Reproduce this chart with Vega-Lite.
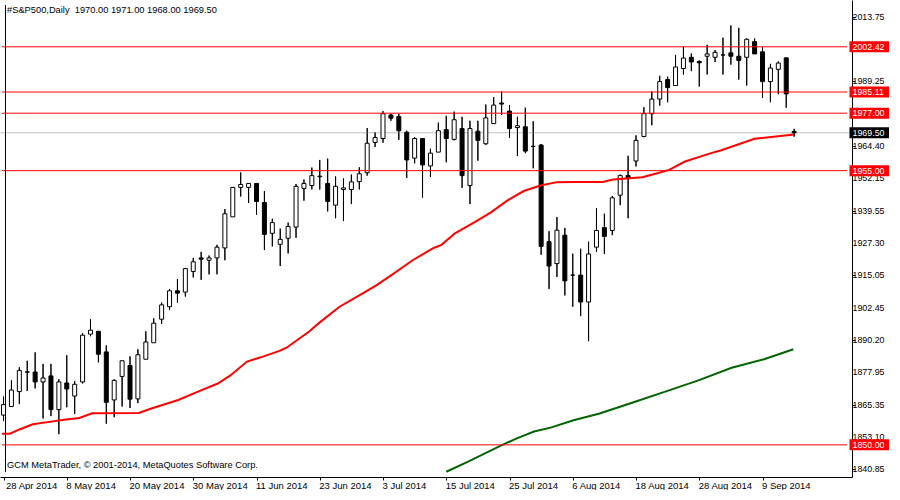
{
  "$schema": "https://vega.github.io/schema/vega-lite/v6.json",
  "width": 852,
  "height": 477,
  "autosize": {"type": "none"},
  "padding": {"left": 0, "top": 0, "right": 38, "bottom": 13},
  "background": "white",
  "config": {
    "view": {"stroke": null},
    "font": "Liberation Sans",
    "axis": {"labelOverlap": false, "labelFlush": false, "labelBound": false, "grid": false, "title": null}
  },
  "datasets": {
    "candles": [
      {"i":0,"o":1861.4,"h":1868.5,"l":1859.1,"c":1865.4},
      {"i":1,"o":1864.7,"h":1874.7,"l":1864.5,"c":1871.0},
      {"i":2,"o":1870.4,"h":1879.7,"l":1865.6,"c":1878.5},
      {"i":3,"o":1877.8,"h":1882.2,"l":1870.6,"c":1878.0},
      {"i":4,"o":1877.9,"h":1885.4,"l":1871.6,"c":1874.1},
      {"i":5,"o":1874.1,"h":1881.0,"l":1860.1,"c":1875.6},
      {"i":6,"o":1876.4,"h":1881.0,"l":1861.0,"c":1863.5},
      {"i":7,"o":1863.5,"h":1875.1,"l":1854.1,"c":1874.1},
      {"i":8,"o":1873.7,"h":1884.3,"l":1864.4,"c":1871.4},
      {"i":9,"o":1868.7,"h":1874.4,"l":1861.8,"c":1873.2},
      {"i":10,"o":1874.1,"h":1892.8,"l":1873.5,"c":1892.0},
      {"i":11,"o":1892.4,"h":1898.1,"l":1891.6,"c":1893.9},
      {"i":12,"o":1893.5,"h":1893.5,"l":1881.6,"c":1884.7},
      {"i":13,"o":1885.6,"h":1888.1,"l":1858.1,"c":1866.3},
      {"i":14,"o":1867.2,"h":1875.1,"l":1860.6,"c":1874.7},
      {"i":15,"o":1876.2,"h":1882.2,"l":1864.7,"c":1882.2},
      {"i":16,"o":1880.4,"h":1883.9,"l":1864.1,"c":1867.5},
      {"i":17,"o":1867.6,"h":1886.6,"l":1866.0,"c":1884.5},
      {"i":18,"o":1882.8,"h":1893.5,"l":1882.8,"c":1889.4},
      {"i":19,"o":1889.1,"h":1898.5,"l":1889.1,"c":1896.6},
      {"i":20,"o":1898.1,"h":1904.5,"l":1896.3,"c":1903.6},
      {"i":21,"o":1902.9,"h":1909.7,"l":1901.6,"c":1909.0},
      {"i":22,"o":1909.0,"h":1913.5,"l":1904.4,"c":1908.1},
      {"i":23,"o":1908.5,"h":1917.5,"l":1906.8,"c":1917.5},
      {"i":24,"o":1916.4,"h":1921.6,"l":1914.1,"c":1920.1},
      {"i":25,"o":1921.6,"h":1923.9,"l":1913.2,"c":1921.1},
      {"i":26,"o":1920.7,"h":1922.5,"l":1915.3,"c":1921.6},
      {"i":27,"o":1921.6,"h":1926.6,"l":1915.3,"c":1925.7},
      {"i":28,"o":1925.4,"h":1940.3,"l":1920.7,"c":1938.5},
      {"i":29,"o":1937.3,"h":1948.6,"l":1937.3,"c":1948.6},
      {"i":30,"o":1948.6,"h":1954.3,"l":1945.1,"c":1949.7},
      {"i":31,"o":1948.6,"h":1950.1,"l":1942.6,"c":1950.1},
      {"i":32,"o":1950.1,"h":1950.1,"l":1938.1,"c":1943.2},
      {"i":33,"o":1942.8,"h":1947.2,"l":1924.6,"c":1930.6},
      {"i":34,"o":1931.0,"h":1936.6,"l":1926.0,"c":1935.1},
      {"i":35,"o":1926.8,"h":1932.8,"l":1918.5,"c":1928.7},
      {"i":36,"o":1929.1,"h":1935.1,"l":1923.3,"c":1933.6},
      {"i":37,"o":1933.4,"h":1949.9,"l":1929.3,"c":1949.0},
      {"i":38,"o":1948.2,"h":1951.6,"l":1943.5,"c":1950.1},
      {"i":39,"o":1949.3,"h":1956.2,"l":1947.8,"c":1953.1},
      {"i":40,"o":1952.7,"h":1959.1,"l":1947.8,"c":1952.9},
      {"i":41,"o":1950.1,"h":1959.6,"l":1939.4,"c":1943.2},
      {"i":42,"o":1941.8,"h":1952.8,"l":1936.8,"c":1949.0},
      {"i":43,"o":1947.8,"h":1952.0,"l":1935.7,"c":1948.4},
      {"i":44,"o":1947.8,"h":1953.5,"l":1942.2,"c":1950.7},
      {"i":45,"o":1950.8,"h":1956.3,"l":1947.8,"c":1953.8},
      {"i":46,"o":1954.2,"h":1971.3,"l":1953.1,"c":1965.5},
      {"i":47,"o":1965.8,"h":1969.7,"l":1964.1,"c":1967.7},
      {"i":48,"o":1967.3,"h":1977.8,"l":1965.7,"c":1976.8},
      {"i":49,"o":1976.3,"h":1976.8,"l":1974.1,"c":1975.1},
      {"i":50,"o":1975.7,"h":1976.8,"l":1966.8,"c":1970.3},
      {"i":51,"o":1969.7,"h":1970.3,"l":1952.2,"c":1959.1},
      {"i":52,"o":1959.8,"h":1967.8,"l":1957.8,"c":1967.3},
      {"i":53,"o":1967.3,"h":1967.3,"l":1944.7,"c":1957.2},
      {"i":54,"o":1956.8,"h":1963.4,"l":1952.6,"c":1961.7},
      {"i":55,"o":1962.1,"h":1973.4,"l":1962.1,"c":1970.3},
      {"i":56,"o":1970.7,"h":1976.0,"l":1958.2,"c":1967.3},
      {"i":57,"o":1967.0,"h":1977.6,"l":1966.6,"c":1974.5},
      {"i":58,"o":1971.1,"h":1975.6,"l":1948.4,"c":1953.1},
      {"i":59,"o":1949.3,"h":1974.1,"l":1942.2,"c":1971.1},
      {"i":60,"o":1970.1,"h":1974.1,"l":1958.8,"c":1966.6},
      {"i":61,"o":1965.3,"h":1980.3,"l":1964.9,"c":1975.2},
      {"i":62,"o":1973.0,"h":1983.2,"l":1973.0,"c":1980.1},
      {"i":63,"o":1980.9,"h":1985.3,"l":1976.3,"c":1980.5},
      {"i":64,"o":1977.8,"h":1980.1,"l":1967.6,"c":1971.1},
      {"i":65,"o":1971.5,"h":1975.6,"l":1960.6,"c":1972.2},
      {"i":66,"o":1971.8,"h":1979.1,"l":1961.7,"c":1962.5},
      {"i":67,"o":1964.3,"h":1973.9,"l":1955.9,"c":1964.3},
      {"i":68,"o":1964.8,"h":1965.2,"l":1922.8,"c":1926.0},
      {"i":69,"o":1927.8,"h":1931.8,"l":1909.7,"c":1918.5},
      {"i":70,"o":1919.4,"h":1937.2,"l":1914.3,"c":1932.2},
      {"i":71,"o":1930.3,"h":1933.1,"l":1907.2,"c":1912.8},
      {"i":72,"o":1915.0,"h":1923.2,"l":1902.9,"c":1915.0},
      {"i":73,"o":1915.0,"h":1925.1,"l":1899.3,"c":1904.7},
      {"i":74,"o":1904.7,"h":1927.8,"l":1889.7,"c":1923.1},
      {"i":75,"o":1925.7,"h":1940.6,"l":1923.9,"c":1932.1},
      {"i":76,"o":1933.2,"h":1938.5,"l":1923.1,"c":1929.8},
      {"i":77,"o":1932.1,"h":1945.3,"l":1930.3,"c":1944.6},
      {"i":78,"o":1945.6,"h":1953.5,"l":1941.8,"c":1953.1},
      {"i":79,"o":1953.1,"h":1960.7,"l":1936.8,"c":1952.2},
      {"i":80,"o":1958.7,"h":1968.5,"l":1956.6,"c":1966.6},
      {"i":81,"o":1968.1,"h":1979.3,"l":1967.8,"c":1976.8},
      {"i":82,"o":1976.8,"h":1985.3,"l":1972.4,"c":1982.4},
      {"i":83,"o":1982.4,"h":1991.3,"l":1979.9,"c":1989.1},
      {"i":84,"o":1989.9,"h":1991.0,"l":1981.2,"c":1986.8},
      {"i":85,"o":1987.6,"h":1999.3,"l":1987.6,"c":1994.7},
      {"i":86,"o":1994.1,"h":2002.4,"l":1991.8,"c":1998.1},
      {"i":87,"o":1998.4,"h":1999.9,"l":1993.1,"c":1996.6},
      {"i":88,"o":1996.8,"h":1997.2,"l":1987.2,"c":1996.3},
      {"i":89,"o":1998.8,"h":2003.2,"l":1991.8,"c":1999.7},
      {"i":90,"o":1998.4,"h":2001.2,"l":1996.6,"c":2000.3},
      {"i":91,"o":1999.3,"h":2005.9,"l":1991.8,"c":1999.3},
      {"i":92,"o":2000.1,"h":2010.6,"l":1995.6,"c":1998.8},
      {"i":93,"o":1998.8,"h":2009.7,"l":1989.9,"c":1997.2},
      {"i":94,"o":1998.4,"h":2005.6,"l":1987.6,"c":2005.3},
      {"i":95,"o":2004.4,"h":2005.6,"l":1999.7,"c":1999.7},
      {"i":96,"o":2000.5,"h":2002.2,"l":1982.8,"c":1989.1},
      {"i":97,"o":1989.1,"h":1995.9,"l":1981.2,"c":1994.3},
      {"i":98,"o":1993.8,"h":1996.8,"l":1984.3,"c":1996.2},
      {"i":99,"o":1998.2,"h":1998.2,"l":1979.1,"c":1984.4},
      {"i":100,"o":1970.0,"h":1971.0,"l":1968.0,"c":1969.5}
    ],
    "ma50": [
      {"i":-0.2,"v":1854.3},{"i":0.8,"v":1854.3},{"i":2.1,"v":1856.0},{"i":3.7,"v":1857.9},
      {"i":5.8,"v":1858.8},{"i":7.9,"v":1859.7},{"i":9.6,"v":1860.3},{"i":11.2,"v":1862.1},
      {"i":17.1,"v":1862.2},{"i":18.7,"v":1863.9},{"i":22.1,"v":1867.2},{"i":24.6,"v":1870.4},
      {"i":27.1,"v":1873.5},{"i":28.7,"v":1876.6},{"i":30.8,"v":1881.9},{"i":32.9,"v":1883.9},
      {"i":34.9,"v":1886.0},{"i":35.8,"v":1887.2},{"i":38.7,"v":1893.5},{"i":40.0,"v":1896.9},
      {"i":42.5,"v":1902.9},{"i":45.0,"v":1907.2},{"i":47.1,"v":1911.0},{"i":49.2,"v":1915.3},
      {"i":51.7,"v":1920.6},{"i":54.4,"v":1925.4},{"i":55.4,"v":1926.6},{"i":57.1,"v":1931.0},
      {"i":59.6,"v":1935.3},{"i":61.7,"v":1939.1},{"i":63.7,"v":1943.5},{"i":65.8,"v":1947.2},
      {"i":67.9,"v":1949.3},{"i":70.0,"v":1950.6},{"i":72.1,"v":1950.7},{"i":75.8,"v":1950.7},
      {"i":77.1,"v":1951.6},{"i":80.8,"v":1952.5},{"i":82.1,"v":1953.5},{"i":84.2,"v":1955.3},
      {"i":86.2,"v":1958.5},{"i":89.6,"v":1961.8},{"i":90.8,"v":1962.8},{"i":95.0,"v":1967.2},
      {"i":100.0,"v":1968.8}
    ],
    "ma200": [
      {"i":56.0,"v":1839.7},{"i":58.7,"v":1843.5},{"i":62.9,"v":1849.7},{"i":65.0,"v":1852.6},
      {"i":67.1,"v":1855.1},{"i":69.2,"v":1856.6},{"i":72.1,"v":1859.4},{"i":75.4,"v":1862.0},
      {"i":79.6,"v":1866.2},{"i":83.7,"v":1870.4},{"i":87.9,"v":1874.7},{"i":92.1,"v":1879.5},
      {"i":96.2,"v":1882.8},{"i":99.9,"v":1886.6}
    ],
    "yticks": [
      {"v": 2013.75}, {"v": 2001.50}, {"v": 1989.25}, {"v": 1976.85}, {"v": 1964.40},
      {"v": 1952.15}, {"v": 1939.55}, {"v": 1927.30}, {"v": 1915.05}, {"v": 1902.45},
      {"v": 1890.20}, {"v": 1877.95}, {"v": 1865.35}, {"v": 1853.10}, {"v": 1840.85}
    ],
    "levels": [
      {"level": 2002.42}, {"level": 1985.11}, {"level": 1977.00}, {"level": 1955.00}, {"level": 1850.00}
    ],
    "bid": [{"level": 1969.50}],
    "texts": [
      {"name": "header", "text": "#S&P500,Daily\u00a0 1970.00 1971.00 1968.00 1969.50"},
      {"name": "copyright", "text": "GCM MetaTrader, © 2001-2014, MetaQuotes Software Corp."}
    ]
  },
  "layer": [
    {
      "data": {"name": "candles"},
      "mark": {"type": "rule", "color": "black", "strokeWidth": 1},
      "encoding": {
        "x": {
          "field": "i", "type": "quantitative",
          "scale": {"domain": [0.1875, 106.6875], "nice": false, "zero": false},
          "axis": {
            "values": [0, 8, 16, 24, 32, 40, 48, 56, 64, 72, 80, 88, 96],
            "labelExpr": "['28 Apr 2014','8 May 2014','20 May 2014','30 May 2014','11 Jun 2014','23 Jun 2014','3 Jul 2014','15 Jul 2014','25 Jul 2014','6 Aug 2014','18 Aug 2014','28 Aug 2014','9 Sep 2014'][round(datum.value/8)]",
            "title": null, "grid": false,
            "domainColor": "black", "domainWidth": 1,
            "tickColor": "black", "tickSize": 3, "tickWidth": 1,
            "labelAlign": "left", "labelBaseline": "alphabetic", "labelPadding": 8.5,
            "labelOffset": {"condition": {"test": "datum.value === 0", "value": 2}, "value": -1},
            "labelFont": "Liberation Sans", "labelFontSize": 9.5, "labelColor": "black",
            "labelFlush": false, "labelOverlap": false, "labelBound": false
          }
        },
        "y": {
          "field": "l", "type": "quantitative",
          "scale": {"domain": [1839.61, 2018.43], "nice": false, "zero": false},
          "axis": {
            "orient": "right",
            "values": [2013.75, 2001.50, 1989.25, 1976.85, 1964.40, 1952.15, 1939.55, 1927.30, 1915.05, 1902.45, 1890.20, 1877.95, 1865.35, 1853.10, 1840.85],
            "labels": false, "title": null, "grid": false,
            "domainColor": "black", "domainWidth": 1,
            "tickColor": "black", "tickSize": 3, "tickWidth": 1
          }
        },
        "y2": {"field": "h"}
      }
    },
    {
      "data": {"name": "bid"},
      "mark": {"type": "rule", "color": "#c0c0c0", "strokeWidth": 1},
      "encoding": {
        "y": {"field": "level", "type": "quantitative"}
      }
    },
    {
      "data": {"name": "candles"},
      "mark": {"type": "rule", "color": "black", "strokeWidth": 1},
      "encoding": {
        "x": {"field": "i", "type": "quantitative"},
        "y": {"field": "l", "type": "quantitative"},
        "y2": {"field": "h"}
      }
    },
    {
      "data": {"name": "candles"},
      "mark": {"type": "bar", "size": 4, "stroke": "black", "strokeWidth": 1, "orient": "vertical"},
      "encoding": {
        "x": {"field": "i", "type": "quantitative"},
        "y": {"field": "o", "type": "quantitative"},
        "y2": {"field": "c"},
        "fill": {"condition": {"test": "datum.c < datum.o", "value": "black"}, "value": "white"}
      }
    },
    {
      "data": {"name": "ma50"},
      "mark": {"type": "line", "color": "#ff0000", "strokeWidth": 2},
      "encoding": {
        "x": {"field": "i", "type": "quantitative"},
        "y": {"field": "v", "type": "quantitative"}
      }
    },
    {
      "data": {"name": "ma200"},
      "mark": {"type": "line", "color": "#006400", "strokeWidth": 2},
      "encoding": {
        "x": {"field": "i", "type": "quantitative"},
        "y": {"field": "v", "type": "quantitative"}
      }
    },
    {
      "data": {"name": "levels"},
      "mark": {"type": "rule", "color": "#ff0000", "strokeWidth": 1},
      "encoding": {
        "y": {"field": "level", "type": "quantitative"},
        "x": {"datum": -0.1875, "type": "quantitative"},
        "x2": {"datum": 106.6875}
      }
    },
    {
      "data": {"name": "bid"},
      "mark": {"type": "rule", "color": "black", "strokeWidth": 1},
      "encoding": {
        "x": {"datum": 0.25, "type": "quantitative"},
        "y": {"datum": 1839.61, "type": "quantitative"},
        "y2": {"datum": 2018.43}
      }
    },
    {
      "data": {"name": "yticks"},
      "mark": {"type": "text", "align": "left", "baseline": "middle", "dx": 3, "color": "black", "font": "Liberation Sans", "fontSize": 8.9},
      "encoding": {
        "x": {"datum": 107.0, "type": "quantitative"},
        "y": {"field": "v", "type": "quantitative"},
        "text": {"field": "v", "type": "quantitative", "format": ".2f"}
      }
    },
    {
      "data": {"name": "levels"},
      "mark": {"type": "bar", "orient": "horizontal", "size": 11, "color": "#ff0000"},
      "encoding": {
        "x": {"datum": 107.0, "type": "quantitative"},
        "x2": {"datum": 112.0},
        "y": {"field": "level", "type": "quantitative"}
      }
    },
    {
      "data": {"name": "levels"},
      "mark": {"type": "text", "align": "left", "baseline": "middle", "dx": 3, "color": "white", "font": "Liberation Sans", "fontSize": 8.9},
      "encoding": {
        "x": {"datum": 107.0, "type": "quantitative"},
        "y": {"field": "level", "type": "quantitative"},
        "text": {"field": "level", "type": "quantitative", "format": ".2f"}
      }
    },
    {
      "data": {"name": "bid"},
      "mark": {"type": "bar", "orient": "horizontal", "size": 11, "color": "black"},
      "encoding": {
        "x": {"datum": 107.0, "type": "quantitative"},
        "x2": {"datum": 112.0},
        "y": {"field": "level", "type": "quantitative"}
      }
    },
    {
      "data": {"name": "bid"},
      "mark": {"type": "text", "align": "left", "baseline": "middle", "dx": 3, "color": "white", "font": "Liberation Sans", "fontSize": 8.9},
      "encoding": {
        "x": {"datum": 107.0, "type": "quantitative"},
        "y": {"field": "level", "type": "quantitative"},
        "text": {"field": "level", "type": "quantitative", "format": ".2f"}
      }
    },
    {
      "data": {"name": "texts"},
      "transform": [{"filter": "datum.name == 'header'"}],
      "mark": {"type": "text", "align": "left", "baseline": "alphabetic", "dx": 5, "dy": 8.3, "color": "black", "font": "Liberation Sans", "fontSize": 9.3},
      "encoding": {
        "x": {"datum": -0.1875, "type": "quantitative"},
        "y": {"datum": 2018.43, "type": "quantitative"},
        "text": {"field": "text"}
      }
    },
    {
      "data": {"name": "texts"},
      "transform": [{"filter": "datum.name == 'copyright'"}],
      "mark": {"type": "text", "align": "left", "baseline": "alphabetic", "dx": 5, "dy": -4.3, "color": "black", "font": "Liberation Sans", "fontSize": 9.3},
      "encoding": {
        "x": {"datum": -0.1875, "type": "quantitative"},
        "y": {"datum": 1839.61, "type": "quantitative"},
        "text": {"field": "text"}
      }
    }
  ]
}
